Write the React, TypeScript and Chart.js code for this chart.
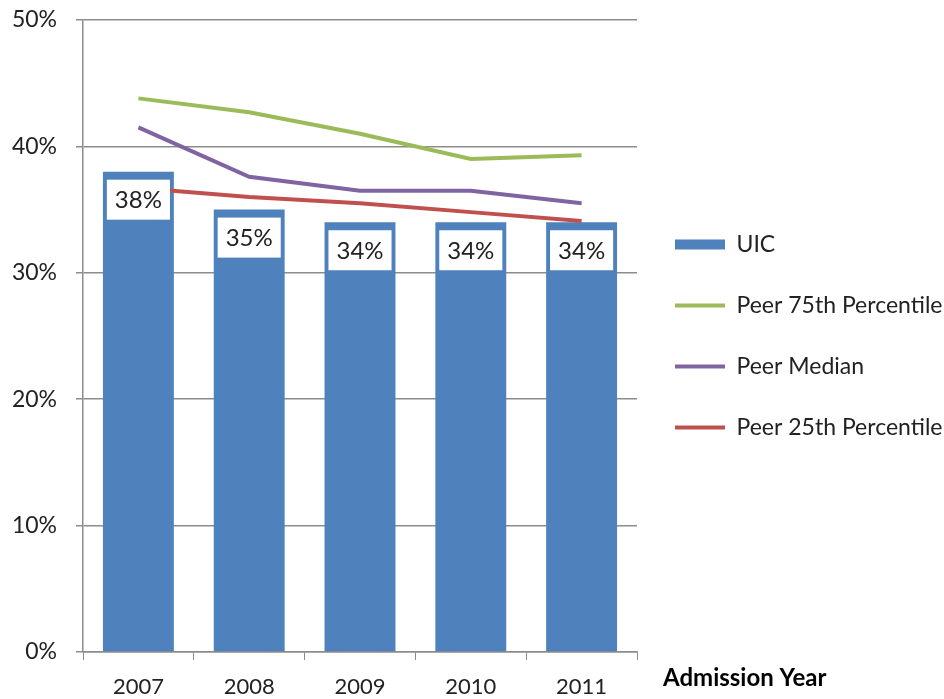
import React, { useEffect, useRef } from "react";
import { Chart, registerables } from "chart.js";

Chart.register(...registerables);

const years = ["2007", "2008", "2009", "2010", "2011"];
const uic = [38, 35, 34, 34, 34];
const peer75 = [43.8, 42.7, 41.0, 39.0, 39.3];
const peerMedian = [41.5, 37.6, 36.5, 36.5, 35.5];
const peer25 = [36.7, 36.0, 35.5, 34.8, 34.1];
const yTicks = [0, 10, 20, 30, 40, 50];
const xTitle = "Admission Year";

const FONT = "Lato, 'Open Sans', sans-serif";
const TEXT = "#222222";
const GRID = "#8c8c8c";

const barLabels = {
  id: "barLabels",
  afterDatasetsDraw(chart: any) {
    const meta = chart.getDatasetMeta(0);
    const ctx = chart.ctx;
    ctx.save();
    ctx.font = `24px ${FONT}`;
    ctx.textAlign = "center";
    ctx.textBaseline = "middle";
    meta.data.forEach((el: any, i: number) => {
      const txt = `${uic[i]}%`;
      const w = ctx.measureText(txt).width + 16;
      const h = 40;
      const top = el.y + 8;
      ctx.fillStyle = "#ffffff";
      ctx.fillRect(el.x - w / 2, top, w, h);
      ctx.fillStyle = TEXT;
      ctx.fillText(txt, el.x, top + h / 2 + 1);
    });
    ctx.restore();
  },
};

const axisTitle = {
  id: "axisTitle",
  afterDraw(chart: any) {
    const ctx = chart.ctx;
    const area = chart.chartArea;
    ctx.save();
    ctx.font = `bold 24px ${FONT}`;
    ctx.fillStyle = "#000000";
    ctx.textAlign = "left";
    ctx.textBaseline = "alphabetic";
    ctx.fillText(xTitle, area.right + 26, area.bottom + 34);
    ctx.restore();
  },
};

export default function App() {
  const ref = useRef<HTMLCanvasElement>(null);

  useEffect(() => {
    document.body.style.margin = "0";
    const chart = new Chart(ref.current as HTMLCanvasElement, {
      type: "bar",
      data: {
        labels: years,
        datasets: [
          {
            type: "bar",
            label: "UIC",
            data: uic,
            backgroundColor: "#4F81BD",
            borderWidth: 0,
            categoryPercentage: 1,
            barPercentage: 0.64,
            pointStyle: "rect",
            order: 2,
          } as any,
          {
            type: "line",
            label: "Peer 75th Percentile",
            data: peer75,
            borderColor: "#9BBB59",
            backgroundColor: "#9BBB59",
            borderWidth: 4,
            pointRadius: 0,
            pointStyle: "line",
            tension: 0,
            order: 1,
          },
          {
            type: "line",
            label: "Peer Median",
            data: peerMedian,
            borderColor: "#8064A2",
            backgroundColor: "#8064A2",
            borderWidth: 4,
            pointRadius: 0,
            pointStyle: "line",
            tension: 0,
            order: 1,
          },
          {
            type: "line",
            label: "Peer 25th Percentile",
            data: peer25,
            borderColor: "#C0504D",
            backgroundColor: "#C0504D",
            borderWidth: 4,
            pointRadius: 0,
            pointStyle: "line",
            tension: 0,
            order: 1,
          },
        ],
      },
      options: {
        animation: false,
        responsive: false,
        maintainAspectRatio: false,
        layout: { padding: { top: 0, left: 0, right: 0, bottom: 0 } },
        plugins: {
          tooltip: { enabled: false },
          legend: {
            position: "right",
            fullSize: false,
            maxWidth: 307,
            labels: {
              usePointStyle: true,
              pointStyleWidth: 50,
              boxHeight: 10,
              padding: 38,
              color: TEXT,
              font: { family: FONT, size: 23 },
              sort: (a: any, b: any) => a.datasetIndex - b.datasetIndex,
            },
          },
        },
        scales: {
          x: {
            offset: true,
            afterFit(scale: any) {
              scale.height = 47;
            },
            grid: {
              offset: true,
              drawOnChartArea: false,
              drawTicks: true,
              tickLength: 8,
              color: GRID,
              lineWidth: 1,
            },
            border: { display: true, color: GRID, width: 1.5 },
            ticks: {
              color: TEXT,
              padding: 14,
              font: { family: FONT, size: 22 },
            },
          },
          y: {
            min: 0,
            max: 50,
            afterBuildTicks(scale: any) {
              scale.ticks = yTicks.map((v) => ({ value: v }));
            },
            afterFit(scale: any) {
              scale.width = 83;
              scale.paddingTop = 20;
              scale.paddingBottom = 0;
            },
            grid: {
              color: GRID,
              lineWidth: 1.5,
              drawTicks: true,
              tickLength: 7,
            },
            border: { display: true, color: GRID, width: 1.5 },
            ticks: {
              color: TEXT,
              padding: 19,
              font: { family: FONT, size: 23 },
              callback: (v: any) => `${v}%`,
            },
          },
        },
      },
      plugins: [barLabels, axisTitle],
    });
    return () => chart.destroy();
  }, []);

  return (
    <div style={{ width: 944, height: 699 }}>
      <canvas ref={ref} width={944} height={699} style={{ display: "block" }} />
    </div>
  );
}
